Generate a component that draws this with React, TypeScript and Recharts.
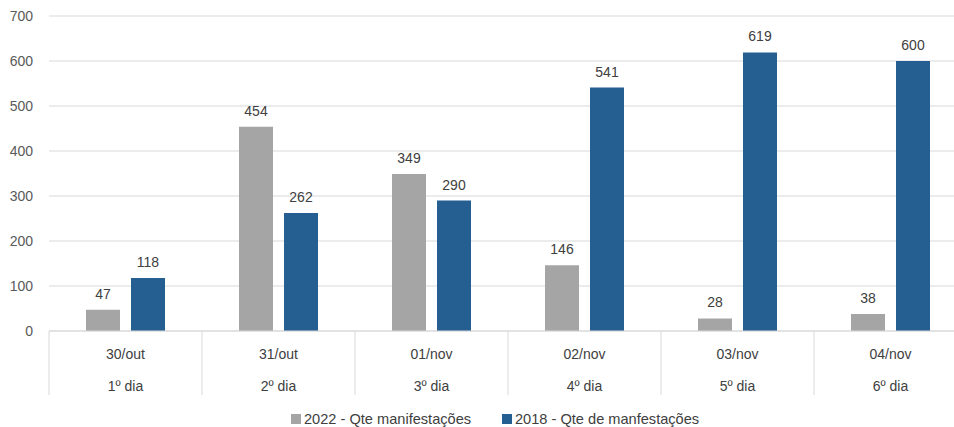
import React from 'react';
import { BarChart, Bar, XAxis, YAxis, CartesianGrid, LabelList } from 'recharts';

const dates = ['30/out', '31/out', '01/nov', '02/nov', '03/nov', '04/nov'];
const days = ['1º dia', '2º dia', '3º dia', '4º dia', '5º dia', '6º dia'];
const series2022 = [47, 454, 349, 146, 28, 38];
const series2018 = [118, 262, 290, 541, 619, 600];
const yTicks = [0, 100, 200, 300, 400, 500, 600, 700];
const name2022 = '2022 - Qte manifestações';
const name2018 = '2018 - Qte de manfestações';

const data = dates.map((d, i) => ({ date: d, day: days[i], v2022: series2022[i], v2018: series2018[i] }));

const FONT = '"Liberation Sans", Arial, sans-serif';
const GRAY = '#A5A5A5';
const BLUE = '#255E91';
const GRID = '#D9D9D9';

const CatTick = (props: any) => {
  const { x, y, payload, index, width, visibleTicksCount } = props;
  const count = visibleTicksCount || dates.length;
  const band = (width || 918) / count;
  const left = x - band / 2;
  const right = x + band / 2;
  return (
    <g>
      <line x1={left} y1={y} x2={left} y2={y + 64} stroke={GRID} strokeWidth={1} />
      {index === count - 1 && <line x1={right} y1={y} x2={right} y2={y + 64} stroke={GRID} strokeWidth={1} />}
      <text x={x} y={y + 28} textAnchor="middle" fill="#404040" fontSize={14} fontFamily={FONT}>{payload.value}</text>
      <text x={x} y={y + 60} textAnchor="middle" fill="#404040" fontSize={14} fontFamily={FONT}>{data[index] ? data[index].day : ''}</text>
    </g>
  );
};

const LegendItem = ({ left, color, label }: { left: number; color: string; label: string }) => (
  <div style={{ position: 'absolute', left, top: 411, display: 'flex', alignItems: 'center', fontFamily: FONT, fontSize: 14.6, color: '#404040', whiteSpace: 'nowrap' }}>
    <span style={{ width: 10, height: 10, background: color, display: 'inline-block', marginRight: 3 }} />
    <span>{label}</span>
  </div>
);

export default function App() {
  return (
    <div style={{ position: 'absolute', left: 0, top: 0, width: 954, height: 427, overflow: 'hidden', background: '#fff' }}>
      <BarChart width={975} height={427} data={data} margin={{ top: 16, right: 8, left: 0, bottom: 32 }} barGap={11} barSize={34}>
        <CartesianGrid vertical={false} stroke={GRID} />
        <XAxis dataKey="date" tick={<CatTick />} tickLine={false} tickSize={0} tickMargin={0} axisLine={{ stroke: GRID }} height={64} interval={0} />
        <YAxis domain={[0, 700]} ticks={yTicks} width={49} axisLine={false} tickLine={false} tickSize={0} tickMargin={16} tick={{ fill: '#595959', fontSize: 14, fontFamily: FONT }} />
        <Bar dataKey="v2022" name={name2022} fill={GRAY} isAnimationActive={false}>
          <LabelList dataKey="v2022" position="top" offset={11} fill="#404040" fontSize={14} fontFamily={FONT} />
        </Bar>
        <Bar dataKey="v2018" name={name2018} fill={BLUE} isAnimationActive={false}>
          <LabelList dataKey="v2018" position="top" offset={11} fill="#404040" fontSize={14} fontFamily={FONT} />
        </Bar>
      </BarChart>
      <LegendItem left={291} color={GRAY} label={name2022} />
      <LegendItem left={502} color={BLUE} label={name2018} />
    </div>
  );
}
